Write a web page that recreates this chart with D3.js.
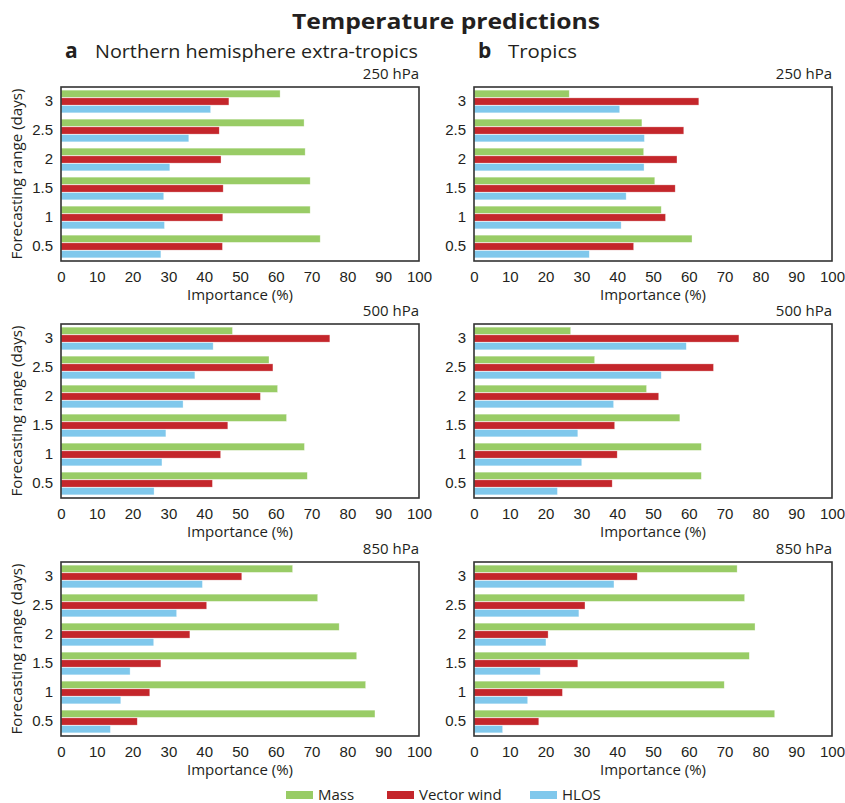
<!DOCTYPE html>
<html>
<head>
<meta charset="utf-8">
<script src="https://cdn.jsdelivr.net/npm/d3@7"></script>
<style>
  body { margin: 0; background: #fff; }
  svg { display: block; font-family: "Open Sans", "Noto Sans", sans-serif; }
</style>
</head>
<body>
<svg id="chart" width="845" height="803"></svg>
<script>
// Forecast ranges (days), listed top to bottom
const ranges = ["3", "2.5", "2", "1.5", "1", "0.5"];
const seriesNames = ["Mass", "Vector wind", "HLOS"];
const xTicks = [0, 10, 20, 30, 40, 50, 60, 70, 80, 90, 100];
const levels = ["250 hPa", "500 hPa", "850 hPa"];
const regions = ["Northern hemisphere extra-tropics", "Tropics"];
const regionLetters = ["a", "b"];

// Importance (%) per forecast range (3 → 0.5 days)
// Northern hemisphere extra-tropics
const nh250Mass = [61.2, 67.9, 68.2, 69.6, 69.6, 72.4];
const nh250Wind = [46.9, 44.2, 44.7, 45.3, 45.2, 45.1];
const nh250Hlos = [41.8, 35.7, 30.4, 28.7, 28.9, 27.9];
const nh500Mass = [47.9, 58.1, 60.5, 63.0, 68.0, 68.8];
const nh500Wind = [75.1, 59.2, 55.7, 46.6, 44.6, 42.3];
const nh500Hlos = [42.5, 37.4, 34.1, 29.3, 28.2, 26.0];
const nh850Mass = [64.7, 71.7, 77.7, 82.6, 85.1, 87.7];
const nh850Wind = [50.5, 40.7, 36.0, 27.9, 24.8, 21.3];
const nh850Hlos = [39.5, 32.3, 25.9, 19.3, 16.7, 13.8];
// Tropics
const tr250Mass = [26.6, 46.9, 47.4, 50.5, 52.3, 60.9];
const tr250Wind = [62.8, 58.6, 56.7, 56.2, 53.5, 44.6];
const tr250Hlos = [40.7, 47.6, 47.5, 42.5, 41.1, 32.2];
const tr500Mass = [27.0, 33.7, 48.2, 57.5, 63.5, 63.5];
const tr500Wind = [74.0, 66.9, 51.6, 39.3, 40.0, 38.6];
const tr500Hlos = [59.3, 52.3, 39.0, 29.0, 30.1, 23.3];
const tr850Mass = [73.5, 75.6, 78.5, 76.9, 69.9, 84.0];
const tr850Wind = [45.6, 31.0, 20.7, 29.0, 24.7, 18.1];
const tr850Hlos = [39.1, 29.3, 20.1, 18.5, 15.0, 8.0];

const panelData = [
  [[nh250Mass, nh250Wind, nh250Hlos], [nh500Mass, nh500Wind, nh500Hlos], [nh850Mass, nh850Wind, nh850Hlos]],
  [[tr250Mass, tr250Wind, tr250Hlos], [tr500Mass, tr500Wind, tr500Hlos], [tr850Mass, tr850Wind, tr850Hlos]]
];

const colors = ["#99cc66", "#c4262b", "#80c8ec"];
const textColor = "#231f20";

const svg = d3.select("#chart");

// Panel frames
const colX = [61, 474];
const rowY = [87, 324, 562];
const pw = 358, ph = 174;

// Title
svg.append("text")
  .attr("x", 446).attr("y", 29)
  .attr("text-anchor", "middle")
  .attr("font-size", 22).attr("font-weight", "bold")
  .attr("fill", textColor)
  .attr("textLength", 308).attr("lengthAdjust", "spacingAndGlyphs")
  .text("Temperature predictions");

// Column headers
const headerLen = [323, 69];
regions.forEach((r, c) => {
  const g = svg.append("text").attr("y", 58).attr("fill", textColor);
  g.append("tspan").attr("x", colX[c] + 4).attr("font-size", 21).attr("font-weight", "bold").text(regionLetters[c]);
  g.append("tspan").attr("x", colX[c] + 34).attr("font-size", 19)
    .attr("textLength", headerLen[c]).attr("lengthAdjust", "spacingAndGlyphs").text(r);
});

const x = d3.scaleLinear().domain([0, 100]).range([0, pw]);
const y = d3.scaleBand().domain(ranges).range([0, ph]).paddingInner(0.2).paddingOuter(0.1);
const ySub = d3.scaleBand().domain(d3.range(seriesNames.length)).range([0, y.bandwidth()]).padding(0);

for (let c = 0; c < 2; c++) {
  for (let r = 0; r < 3; r++) {
    const g = svg.append("g").attr("transform", `translate(${colX[c]},${rowY[r]})`);
    const series = panelData[c][r];

    // Bars
    series.forEach((vals, s) => {
      g.append("g").selectAll("rect")
        .data(vals)
        .join("rect")
        .attr("x", 0)
        .attr("y", (d, i) => y(ranges[i]) + ySub(s) + 0.25)
        .attr("width", d => x(d))
        .attr("height", ySub.bandwidth() - 0.5)
        .attr("fill", colors[s])
        .attr("stroke", "rgba(255,255,255,0.55)")
        .attr("stroke-width", 0.6);
    });

    // Frame
    g.append("rect")
      .attr("x", 0).attr("y", 0).attr("width", pw).attr("height", ph)
      .attr("fill", "none").attr("stroke", "#333").attr("stroke-width", 1.6);

    // X axis
    const xa = g.append("g").attr("transform", `translate(0,${ph})`)
      .call(d3.axisBottom(x).tickValues(xTicks).tickSize(0).tickPadding(10).tickFormat(d3.format("d")));
    xa.select(".domain").remove();
    xa.selectAll("text").attr("font-size", 15).attr("fill", textColor).attr("font-family", null);

    // Y axis
    const ya = g.append("g")
      .call(d3.axisLeft(y).tickSize(0).tickPadding(8));
    ya.select(".domain").remove();
    ya.selectAll("text").attr("font-size", 15).attr("fill", textColor).attr("font-family", null);

    // X title
    g.append("text")
      .attr("x", pw / 2).attr("y", ph + 39)
      .attr("text-anchor", "middle").attr("font-size", 15).attr("fill", textColor)
      .text("Importance (%)");

    // Level label
    g.append("text")
      .attr("x", pw).attr("y", -8)
      .attr("text-anchor", "end").attr("font-size", 15).attr("fill", textColor)
      .text(levels[r]);

    // Y title on the left column
    if (c === 0) {
      g.append("text")
        .attr("transform", `translate(${-39},${ph / 2}) rotate(-90)`)
        .attr("text-anchor", "middle").attr("font-size", 15).attr("fill", textColor)
        .attr("textLength", 171).attr("lengthAdjust", "spacingAndGlyphs")
        .text("Forecasting range (days)");
    }
  }
}

// Legend
const legendX = [286, 387, 530];
const legend = svg.append("g").attr("transform", "translate(0,795)");
seriesNames.forEach((n, i) => {
  legend.append("rect").attr("x", legendX[i]).attr("y", -4).attr("width", 27).attr("height", 8).attr("fill", colors[i]);
  legend.append("text").attr("x", legendX[i] + 32).attr("y", 5)
    .attr("font-size", 15).attr("fill", textColor).text(n);
});
</script>
</body>
</html>
